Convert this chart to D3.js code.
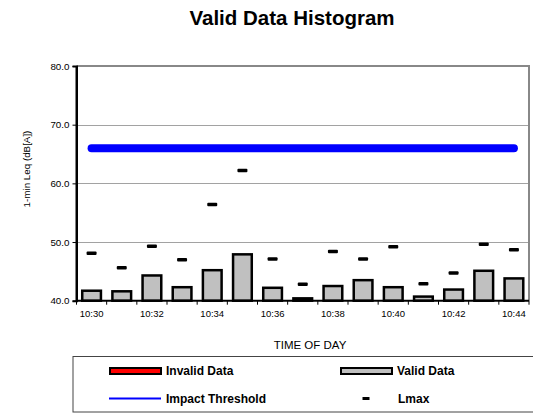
<!DOCTYPE html>
<html>
<head>
<meta charset="utf-8">
<script src="https://cdn.jsdelivr.net/npm/d3@7"></script>
<style>
  html, body { margin: 0; padding: 0; background: #fff; }
  svg { display: block; font-family: "Liberation Sans", Arial, sans-serif; }
</style>
</head>
<body>
<svg id="chart" width="533" height="416"></svg>
<script>
// One-minute noise readings, 10:30 to 10:44
const times = ["10:30","10:31","10:32","10:33","10:34","10:35","10:36","10:37",
               "10:38","10:39","10:40","10:41","10:42","10:43","10:44"];
const leqValid = [41.7, 41.6, 44.3, 42.3, 45.2, 47.9, 42.2, 40.4,
                  42.5, 43.5, 42.3, 40.7, 41.9, 45.1, 43.8];
const lmax = [48.1, 45.6, 49.3, 47.0, 56.4, 62.2, 47.1, 42.8,
              48.4, 47.1, 49.2, 42.9, 44.7, 49.6, 48.7];
const impactThreshold = 66;
const yTicks = [40, 50, 60, 70, 80];
const xTickLabels = ["10:30","10:32","10:34","10:36","10:38","10:40","10:42","10:44"];

const svg = d3.select("#chart");
const plot = { left: 76.5, right: 529, top: 66, bottom: 300.7 };

const x = d3.scaleBand().domain(times).range([plot.left, plot.right]).paddingInner(0).paddingOuter(0);
const y = d3.scaleLinear().domain([40, 80]).range([plot.bottom, plot.top]);

// Title
svg.append("text")
  .attr("x", 292).attr("y", 25)
  .attr("text-anchor", "middle")
  .attr("font-size", 20.5).attr("font-weight", "bold")
  .text("Valid Data Histogram");

// Dotted gridlines
svg.append("g").selectAll("line")
  .data(yTicks.filter(d => d > 40 && d < 80))
  .join("line")
  .attr("x1", plot.left).attr("x2", plot.right)
  .attr("y1", d => Math.round(y(d)) + 0.5).attr("y2", d => Math.round(y(d)) + 0.5)
  .attr("stroke", "#444").attr("stroke-width", 1)
  .attr("stroke-dasharray", "1,1");

// Top and right frame
svg.append("path")
  .attr("d", `M${plot.left},${y(80)}H${plot.right}V${plot.bottom}`)
  .attr("fill", "none").attr("stroke", "#888").attr("stroke-width", 2);

// Y axis
const yAxis = d3.axisLeft(y).tickValues(yTicks).tickFormat(d3.format(".1f")).tickSize(4).tickPadding(3);
const gy = svg.append("g").attr("transform", `translate(${plot.left},0)`).call(yAxis);
gy.select(".domain").attr("stroke", "#000").attr("stroke-width", 2);
gy.selectAll(".tick line").attr("stroke", "#000");
gy.selectAll("text").attr("font-size", 9.8).attr("font-family", "Liberation Sans, Arial, sans-serif").attr("fill", "#000");

// X axis: ticks at minute boundaries, labels every two minutes
const xEdge = d3.scaleLinear().domain([0, times.length]).range([plot.left, plot.right]);
const gx = svg.append("g");
gx.selectAll("line.tick")
  .data(d3.range(times.length + 1))
  .join("line")
  .attr("x1", d => xEdge(d)).attr("x2", d => xEdge(d))
  .attr("y1", plot.bottom).attr("y2", plot.bottom + 4)
  .attr("stroke", "#000").attr("stroke-width", 1);
gx.selectAll("text")
  .data(xTickLabels)
  .join("text")
  .attr("x", d => x(d) + x.bandwidth() / 2)
  .attr("y", 317)
  .attr("text-anchor", "middle")
  .attr("font-size", 9.5)
  .text(d => d);

// Impact threshold
svg.append("line")
  .attr("x1", x(times[0]) + x.bandwidth() / 2)
  .attr("x2", x(times[times.length - 1]) + x.bandwidth() / 2)
  .attr("y1", y(impactThreshold)).attr("y2", y(impactThreshold))
  .attr("stroke", "#0000ff").attr("stroke-width", 8).attr("stroke-linecap", "round");

// Valid data bars
const barW = x.bandwidth() * 0.62;
svg.append("g").selectAll("rect")
  .data(times.map((t, i) => ({ t, v: leqValid[i] })))
  .join("rect")
  .attr("x", d => x(d.t) + (x.bandwidth() - barW) / 2)
  .attr("width", barW)
  .attr("y", d => y(d.v))
  .attr("height", d => y(40) - y(d.v))
  .attr("fill", "#c0c0c0").attr("stroke", "#000").attr("stroke-width", 2.5);

// Axis lines drawn over bar bases
svg.append("line")
  .attr("x1", plot.left).attr("x2", plot.right)
  .attr("y1", plot.bottom).attr("y2", plot.bottom)
  .attr("stroke", "#000").attr("stroke-width", 2);
svg.append("line")
  .attr("x1", plot.left).attr("x2", plot.left)
  .attr("y1", plot.top).attr("y2", plot.bottom + 1)
  .attr("stroke", "#000").attr("stroke-width", 2);

// Lmax dashes
svg.append("g").selectAll("rect")
  .data(times.map((t, i) => ({ t, v: lmax[i] })))
  .join("rect")
  .attr("x", d => x(d.t) + x.bandwidth() / 2 - 5)
  .attr("y", d => y(d.v) - 1.75)
  .attr("width", 10).attr("height", 3.5)
  .attr("rx", 1)
  .attr("fill", "#000");

// Axis titles
svg.append("text")
  .attr("transform", "translate(30,169) rotate(-90)")
  .attr("text-anchor", "middle")
  .attr("font-size", 9.8)
  .text("1-min Leq (dB[A])");
svg.append("text")
  .attr("x", 310).attr("y", 349)
  .attr("text-anchor", "middle")
  .attr("font-size", 11.5)
  .text("TIME OF DAY");

// Legend
const lg = svg.append("g");
lg.append("rect")
  .attr("x", 73).attr("y", 356.5).attr("width", 470).attr("height", 55.5)
  .attr("fill", "none").attr("stroke", "#444").attr("stroke-width", 1);

const row1 = 371, row2 = 398.5;
lg.append("rect").attr("x", 110).attr("y", row1 - 3).attr("width", 51).attr("height", 6)
  .attr("fill", "#ff0000").attr("stroke", "#000").attr("stroke-width", 2);
lg.append("rect").attr("x", 341).attr("y", row1 - 3).attr("width", 51).attr("height", 6)
  .attr("fill", "#c0c0c0").attr("stroke", "#000").attr("stroke-width", 2);
lg.append("line").attr("x1", 109).attr("x2", 161).attr("y1", row2).attr("y2", row2)
  .attr("stroke", "#0000ff").attr("stroke-width", 2);
lg.append("rect").attr("x", 362.5).attr("y", row2 - 1.5).attr("width", 7).attr("height", 3)
  .attr("fill", "#000");

const legendLabels = [
  { text: "Invalid Data", x: 166, y: row1 },
  { text: "Valid Data", x: 397, y: row1 },
  { text: "Impact Threshold", x: 166, y: row2 },
  { text: "Lmax", x: 398, y: row2 }
];
lg.selectAll("text.lbl")
  .data(legendLabels)
  .join("text")
  .attr("x", d => d.x).attr("y", d => d.y)
  .attr("dy", "0.36em")
  .attr("font-size", 12).attr("font-weight", "bold")
  .text(d => d.text);
</script>
</body>
</html>
